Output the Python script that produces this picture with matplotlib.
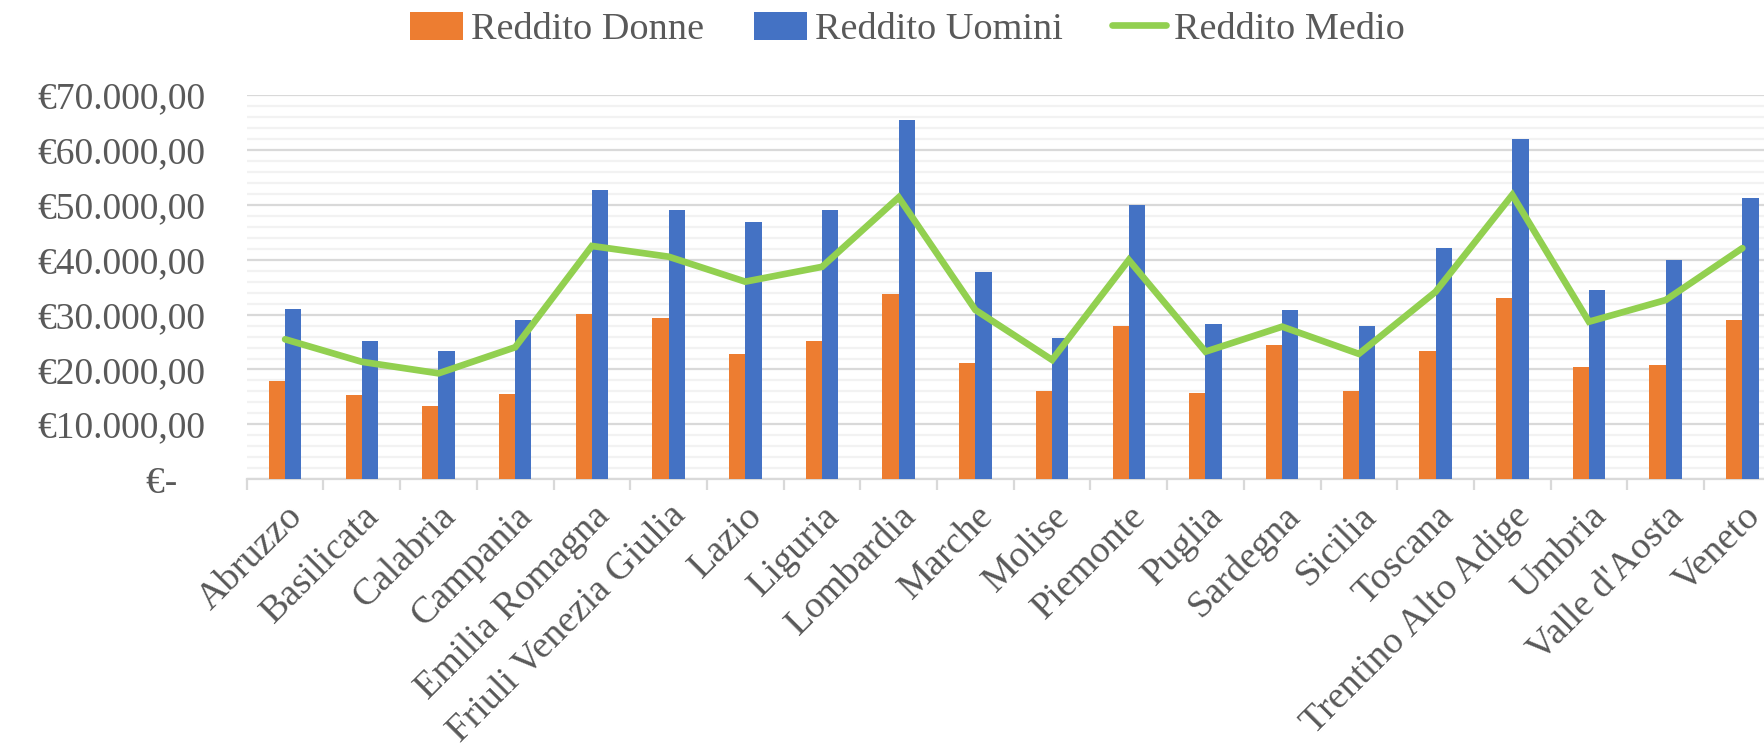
import numpy as np
import matplotlib.pyplot as plt
from matplotlib.ticker import MultipleLocator, FixedLocator

regioni = ['Abruzzo', 'Basilicata', 'Calabria', 'Campania', 'Emilia Romagna',
           'Friuli Venezia Giulia', 'Lazio', 'Liguria', 'Lombardia', 'Marche',
           'Molise', 'Piemonte', 'Puglia', 'Sardegna', 'Sicilia', 'Toscana',
           'Trentino Alto Adige', 'Umbria', "Valle d'Aosta", 'Veneto']

reddito_donne = [17900, 15400, 13350, 15550, 30100, 29400, 22900, 25200, 33800, 21250,
                 16050, 27900, 15800, 24500, 16050, 23400, 33000, 20450, 20800, 28950]
reddito_uomini = [31000, 25100, 23450, 28950, 52700, 49100, 46850, 49000, 65500, 37800,
                  25700, 49900, 28250, 30850, 27900, 42200, 61900, 34550, 40000, 51200]
reddito_medio = [25500, 21400, 19300, 24050, 42500, 40550, 36000, 38700, 51350, 30850,
                 21750, 39950, 23250, 27800, 22850, 34150, 51800, 28700, 32650, 42100]

y_ticks = [0, 10000, 20000, 30000, 40000, 50000, 60000, 70000]
y_labels = ['€-   ', '€10.000,00', '€20.000,00', '€30.000,00', '€40.000,00',
            '€50.000,00', '€60.000,00', '€70.000,00']

grigio = '#595959'
plt.rcParams['font.family'] = ['Liberation Serif', 'DejaVu Serif']

fig = plt.figure(figsize=(17.65, 7.51), dpi=100)
# axes runs a bit past the right edge, like the original (Veneto is cut)
ax = fig.add_axes([0.1398, 0.3618, 0.8691, 0.5117])

x = np.arange(len(regioni))
w = 0.212
b1 = ax.bar(x - w / 2, reddito_donne, w, color='#ED7D31', zorder=3)
b2 = ax.bar(x + w / 2, reddito_uomini, w, color='#4472C4', zorder=3)
l1, = ax.plot(x, reddito_medio, color='#92D050', lw=4.8, zorder=4,
              solid_joinstyle='miter', solid_capstyle='round')

ax.set_xlim(-0.5, len(regioni) - 0.5)
ax.set_ylim(0, 70000)

# gridlines
ax.yaxis.set_major_locator(FixedLocator(y_ticks))
ax.yaxis.set_minor_locator(MultipleLocator(2000))
ax.grid(axis='y', which='major', color='#d9d9d9', lw=1.6, zorder=0)
ax.grid(axis='y', which='minor', color='#f2f2f2', lw=1.6, zorder=0)
ax.set_yticklabels(y_labels, fontsize=27, color=grigio)
ax.tick_params(axis='y', which='both', length=0, pad=30)

# category labels at centers, tick marks between categories
ax.set_xticks(x)
ax.set_xticklabels(regioni, rotation=45, ha='right', rotation_mode='anchor',
                   fontsize=27.5, color=grigio)
ax.xaxis.set_minor_locator(FixedLocator(np.arange(-0.5, len(regioni), 1)))
ax.tick_params(axis='x', which='major', length=0, pad=14)
ax.tick_params(axis='x', which='minor', length=8, width=1.6, color='#d9d9d9')

for s in ['top', 'right', 'left']:
    ax.spines[s].set_visible(False)
ax.spines['bottom'].set_color('#d9d9d9')
ax.spines['bottom'].set_linewidth(1.6)

fig.legend([b1, b2, l1], ['Reddito Donne', 'Reddito Uomini', 'Reddito Medio'],
           loc='center', bbox_to_anchor=(0.514, 0.961), ncol=3, frameon=False,
           fontsize=27.5, labelcolor=grigio, handlelength=1.4, handleheight=0.75,
           handletextpad=0.2, columnspacing=1.3)

fig.savefig('out.png', dpi=100)
